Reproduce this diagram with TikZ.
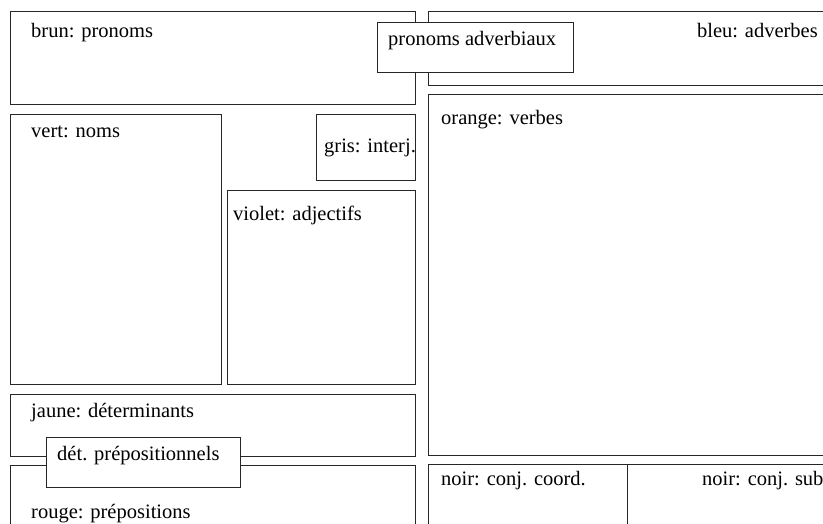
\documentclass[tikz,border=0pt]{standalone}
\usepackage{fontspec}
\setmainfont{Liberation Serif}
\begin{document}
\begin{tikzpicture}[x=1pt,y=-1pt,
  box/.style={draw=black!85,line width=1pt,rectangle,inner sep=0pt,anchor=north west,fill=white},
  lbl/.style={inner sep=0pt,anchor=base west,font=\fontsize{20.5}{24}\selectfont}]
\useasboundingbox (0,0) rectangle (823,523);
\clip (0,0) rectangle (823,523);
% boxes
\node[box,minimum width=405pt,minimum height=93pt] (brun) at (10,11) {};
\node[box,minimum width=422pt,minimum height=74pt] (bleu) at (428,11) {};
\node[box,minimum width=422pt,minimum height=361pt] (orange) at (428,94) {};
\node[box,minimum width=211pt,minimum height=270pt] (vert) at (10,114) {};
\node[box,minimum width=99pt,minimum height=66pt] (gris) at (316,114) {};
\node[box,minimum width=188pt,minimum height=194pt] (violet) at (227,190) {};
\node[box,minimum width=405pt,minimum height=62pt] (jaune) at (10,394) {};
\node[box,minimum width=405pt,minimum height=95pt] (rouge) at (10,465) {};
\node[box,minimum width=199pt,minimum height=96pt] (coord) at (428,464) {};
\node[box,minimum width=223pt,minimum height=96pt] (sub) at (627,464) {};
\node[box,minimum width=196pt,minimum height=50pt] (pronadv) at (377,22) {};
\node[box,minimum width=194pt,minimum height=50pt] (detprep) at (46,437) {};
% labels
\node[lbl] (tbrun) at (31,37) {brun: pronoms};
\node[lbl,anchor=base east] (tbleu) at (818,37) {bleu: adverbes};
\node[lbl] (tpronadv) at (388,45) {pronoms adverbiaux};
\node[lbl] (torange) at (441,124) {orange: verbes};
\node[lbl] (tvert) at (31,137) {vert: noms};
\node[lbl] (tgris) at (324,152) {gris: interj.};
\node[lbl] (tviolet) at (233,220) {violet: adjectifs};
\node[lbl] (tjaune) at (31,417) {jaune: déterminants};
\node[lbl] (tdetprep) at (57,460) {dét. prépositionnels};
\node[lbl] (trouge) at (31,518) {rouge: prépositions};
\node[lbl] (tcoord) at (441,485) {noir: conj. coord.};
\node[lbl] (tsub) at (702,485) {noir: conj. sub};
\end{tikzpicture}
\end{document}
